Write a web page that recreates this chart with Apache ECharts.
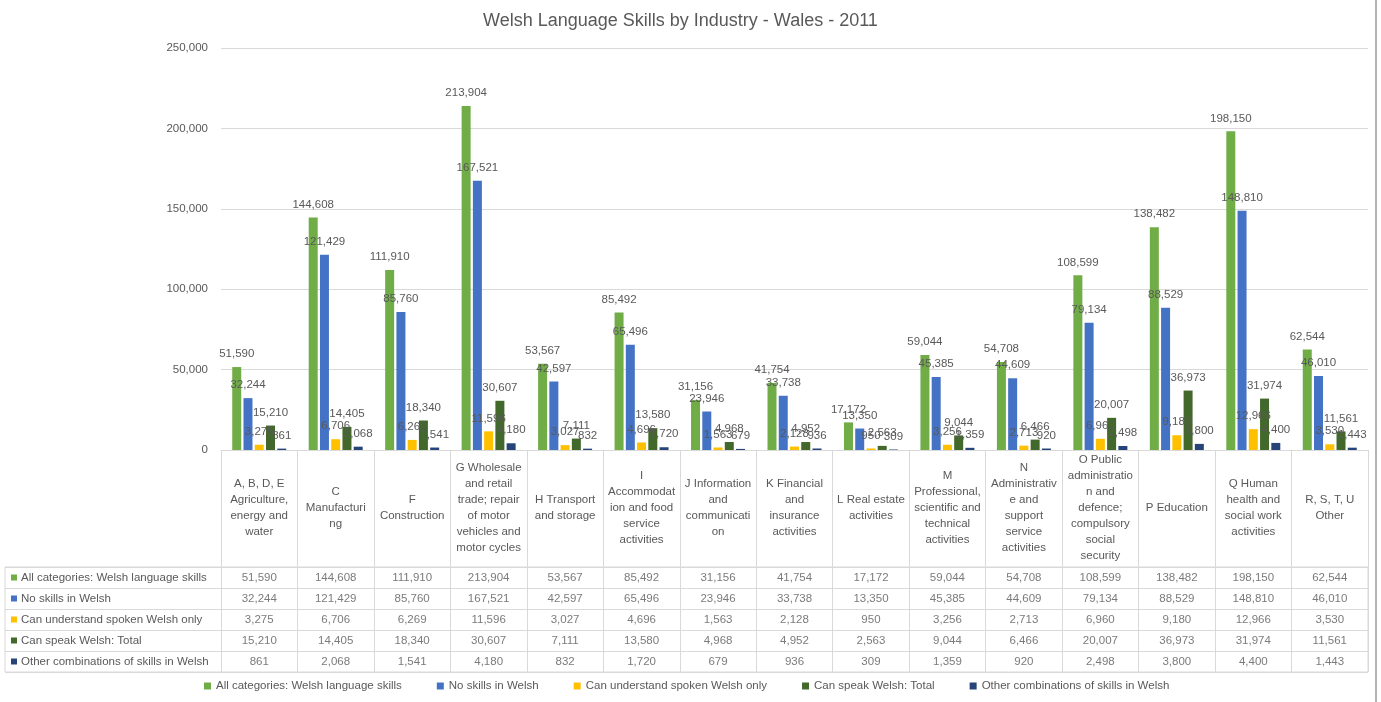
<!DOCTYPE html>
<html>
<head>
<meta charset="utf-8">
<title>Welsh Language Skills by Industry - Wales - 2011</title>
<script src="https://cdn.jsdelivr.net/npm/echarts@6/dist/echarts.min.js"></script>
<style>
    html, body { margin: 0; padding: 0; background: #fff; }
    #skillsChart { width: 1381px; height: 702px; }
</style>
</head>
<body>
<div id="skillsChart"></div>
<script>
let categories = [
    'A, B, D, E\nAgriculture,\nenergy and\nwater',
    'C\nManufacturi\nng',
    'F\nConstruction',
    'G Wholesale\nand retail\ntrade; repair\nof motor\nvehicles and\nmotor cycles',
    'H Transport\nand storage',
    'I\nAccommodat\nion and food\nservice\nactivities',
    'J Information\nand\ncommunicati\non',
    'K Financial\nand\ninsurance\nactivities',
    'L Real estate\nactivities',
    'M\nProfessional,\nscientific and\ntechnical\nactivities',
    'N\nAdministrativ\ne and\nsupport\nservice\nactivities',
    'O Public\nadministratio\nn and\ndefence;\ncompulsory\nsocial\nsecurity',
    'P Education',
    'Q Human\nhealth and\nsocial work\nactivities',
    'R, S, T, U\nOther'
];

let seriesNames = [
    'All categories: Welsh language skills',
    'No skills in Welsh',
    'Can understand spoken Welsh only',
    'Can speak Welsh: Total',
    'Other combinations of skills in Welsh'
];

let allCategories = [51590, 144608, 111910, 213904, 53567, 85492, 31156, 41754, 17172, 59044, 54708, 108599, 138482, 198150, 62544];
let noSkills = [32244, 121429, 85760, 167521, 42597, 65496, 23946, 33738, 13350, 45385, 44609, 79134, 88529, 148810, 46010];
let understandOnly = [3275, 6706, 6269, 11596, 3027, 4696, 1563, 2128, 950, 3256, 2713, 6960, 9180, 12966, 3530];
let canSpeak = [15210, 14405, 18340, 30607, 7111, 13580, 4968, 4952, 2563, 9044, 6466, 20007, 36973, 31974, 11561];
let otherCombos = [861, 2068, 1541, 4180, 832, 1720, 679, 936, 309, 1359, 920, 2498, 3800, 4400, 1443];

let yTicks = [0, 50000, 100000, 150000, 200000, 250000];

let colors = ['#70AD47', '#4472C4', '#FFC000', '#43682B', '#264478'];
let rows = [allCategories, noSkills, understandOnly, canSpeak, otherCombos];

let textColor = '#595959';
let lineColor = '#d9d9d9';
let fontFamily = 'Liberation Sans, Arial, sans-serif';

function fmt(v) {
    return Number(v).toLocaleString('en-US');
}

let skillsChart = echarts.init(document.getElementById('skillsChart'));

// bar series
let barSeries = rows.map(function (data, i) {
    return {
        name: seriesNames[i],
        type: 'bar',
        xAxisIndex: 0,
        yAxisIndex: 0,
        data: data,
        barWidth: 9,
        barGap: '25%',
        itemStyle: {color: colors[i]},
        label: {
            show: true,
            position: 'top',
            distance: 7,
            color: textColor,
            fontSize: 11.5,
            fontFamily: fontFamily,
            formatter: function (p) {
                return fmt(p.value);
            }
        },
        emphasis: {disabled: true}
    };
});

// data table cells
let tableSeries = rows.map(function (data, r) {
    return {
        name: 'table' + r,
        type: 'scatter',
        xAxisIndex: 2,
        yAxisIndex: 2,
        symbolSize: 1,
        itemStyle: {color: 'rgba(0,0,0,0)'},
        data: data.map(function (v, i) {
            return [i, r, v];
        }),
        label: {
            show: true,
            position: 'inside',
            color: textColor,
            fontSize: 11.5,
            fontFamily: fontFamily,
            formatter: function (p) {
                return fmt(p.value[2]);
            }
        },
        silent: true
    };
});

let rowRich = {};
colors.forEach(function (c, i) {
    rowRich['sq' + i] = {width: 6, height: 6, backgroundColor: c};
});
rowRich.t = {color: textColor, fontSize: 11.5, fontFamily: fontFamily, padding: [0, 0, 0, 4]};

let skillsOption = {
    animation: false,
    textStyle: {fontFamily: fontFamily},
    title: {
        text: 'Welsh Language Skills by Industry - Wales - 2011',
        left: 478,
        top: 7,
        textStyle: {
            color: textColor,
            fontSize: 18,
            fontWeight: 'normal',
            fontFamily: fontFamily
        }
    },
    legend: {
        data: seriesNames,
        bottom: 5,
        left: 199,
        itemWidth: 7,
        itemHeight: 7,
        itemGap: 35,
        icon: 'rect',
        textStyle: {color: textColor, fontSize: 11.5, fontFamily: fontFamily}
    },
    graphic: [
        {
            type: 'line',
            silent: true,
            shape: {x1: 1376, y1: 0, x2: 1376, y2: 702},
            style: {stroke: '#b4b4b4', lineWidth: 2}
        }
    ],
    grid: [
        {left: 221, right: 13, top: 48, height: 402},
        {left: 5, right: 13, top: 567, height: 105, show: true, borderColor: lineColor, borderWidth: 1, backgroundColor: 'transparent'},
        {left: 221, right: 13, top: 567, height: 105}
    ],
    xAxis: [
        {
            type: 'category',
            gridIndex: 0,
            data: categories,
            axisLine: {lineStyle: {color: lineColor}},
            axisTick: {show: true, alignWithLabel: false, interval: 0, length: 222, lineStyle: {color: lineColor}},
            axisLabel: {
                interval: 0,
                margin: 58,
                verticalAlign: 'middle',
                align: 'center',
                lineHeight: 16,
                color: textColor,
                fontSize: 11.5,
                fontFamily: fontFamily
            }
        },
        {type: 'value', gridIndex: 1, show: false},
        {type: 'category', gridIndex: 2, data: categories, show: false}
    ],
    yAxis: [
        {
            type: 'value',
            gridIndex: 0,
            min: yTicks[0],
            max: yTicks[yTicks.length - 1],
            interval: 50000,
            axisLine: {show: false},
            axisTick: {show: false},
            splitLine: {lineStyle: {color: lineColor}},
            axisLabel: {
                margin: 13,
                color: textColor,
                fontSize: 11.5,
                fontFamily: fontFamily,
                formatter: function (v) {
                    return fmt(v);
                }
            }
        },
        {
            type: 'category',
            gridIndex: 1,
            data: seriesNames,
            inverse: true,
            axisLine: {show: false},
            axisTick: {show: false},
            splitLine: {show: true, interval: 0, lineStyle: {color: lineColor}},
            axisLabel: {
                inside: true,
                interval: 0,
                margin: 6,
                formatter: function (v, i) {
                    return '{sq' + i + '|}{t|' + v + '}';
                },
                rich: rowRich
            }
        },
        {type: 'category', gridIndex: 2, data: seriesNames, inverse: true, show: false}
    ],
    series: barSeries.concat(tableSeries)
};

skillsChart.setOption(skillsOption);

window.onresize = function () {
    skillsChart.resize();
};
</script>
</body>
</html>
